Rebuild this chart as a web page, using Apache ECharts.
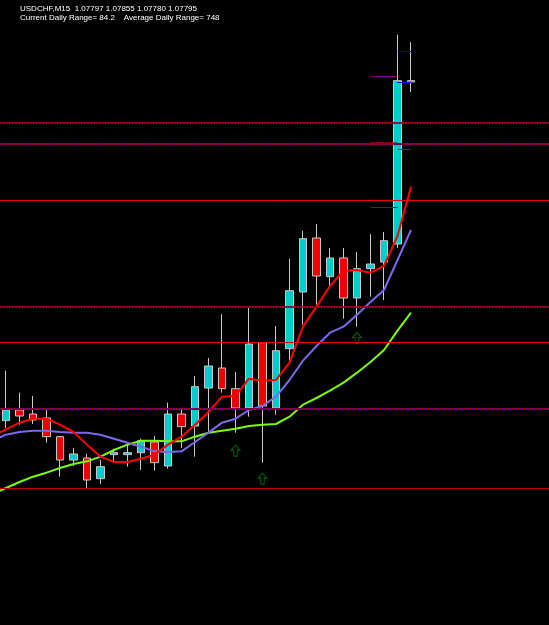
<!DOCTYPE html>
<html><head><meta charset="utf-8">
<script src="https://cdn.jsdelivr.net/npm/echarts@6/dist/echarts.min.js"></script>
<style>html,body{margin:0;padding:0;background:#000;}#c{width:549px;height:625px;}</style>
</head><body><div id="c"></div>
<script>
// ---- data ----
const symbolName = 'USDCHF,M15';
const currentDailyRange = '84.2';
const averageDailyRange = '748';
// bar index of each candle (index 0 is the bar just left of the chart edge)
const candleIdx = [1,2,3,4,5,6,7,8,9,10,11,12,13,14,15,16,17,18,19,20,21,22,23,24,25,26,27,28,29,30,31];
const opens  = [1.07287,1.07303,1.07297,1.07291,1.07263,1.07228,1.07231,1.07200,1.07236,1.07236,1.07239,1.07255,1.07219,1.07297,1.07279,1.07336,1.07366,1.07335,1.07306,1.07404,1.07306,1.07395,1.07480,1.07561,1.07503,1.07531,1.07471,1.07515,1.07525,1.07552,1.07797];
const closes = [1.07303,1.07294,1.07288,1.07263,1.07228,1.07237,1.07198,1.07218,1.07239,1.07239,1.07257,1.07224,1.07297,1.07278,1.07338,1.07369,1.07335,1.07306,1.07402,1.07309,1.07392,1.07482,1.07560,1.07504,1.07531,1.07471,1.07515,1.07522,1.07557,1.07797,1.07795];
const lows   = [1.07276,1.07281,1.07282,1.07254,1.07203,1.07219,1.07186,1.07192,1.07224,1.07218,1.07213,1.07212,1.07215,1.07246,1.07233,1.07269,1.07329,1.07269,1.07293,1.07224,1.07296,1.07374,1.07431,1.07461,1.07486,1.07440,1.07428,1.07473,1.07468,1.07546,1.07780];
const highs  = [1.07362,1.07329,1.07324,1.07305,1.07264,1.07246,1.07237,1.07228,1.07245,1.07254,1.07260,1.07264,1.07314,1.07305,1.07354,1.07381,1.07447,1.07360,1.07456,1.07405,1.07429,1.07530,1.07572,1.07582,1.07546,1.07546,1.07540,1.07567,1.07570,1.07866,1.07855];
// moving averages, bar index 0..31
const maIdx  = [0,1,2,3,4,5,6,7,8,9,10,11,12,13,14,15,16,17,18,19,20,21,22,23,24,25,26,27,28,29,30,31];
const maFast = [1.07264,1.07274,1.07284,1.07290,1.07290,1.07281,1.07270,1.07251,1.07233,1.07225,1.07225,1.07230,1.07236,1.07251,1.07263,1.07281,1.07300,1.07323,1.07324,1.07350,1.07347,1.07348,1.07374,1.07428,1.07458,1.07489,1.07512,1.07513,1.07509,1.07519,1.07564,1.07638];
const maMid  = [1.07257,1.07266,1.07270,1.07272,1.07272,1.07270,1.07269,1.07269,1.07266,1.07260,1.07254,1.07248,1.07241,1.07240,1.07241,1.07255,1.07269,1.07284,1.07290,1.07303,1.07309,1.07323,1.07348,1.07377,1.07399,1.07419,1.07428,1.07446,1.07465,1.07483,1.07528,1.07573];
const maSlow = [1.07177,1.07186,1.07195,1.07203,1.07209,1.07216,1.07222,1.07226,1.07233,1.07243,1.07251,1.07257,1.07257,1.07256,1.07256,1.07263,1.07269,1.07272,1.07275,1.07279,1.07281,1.07282,1.07293,1.07311,1.07321,1.07332,1.07344,1.07359,1.07375,1.07393,1.07422,1.07449];
// fractal arrows
const fractalIdx = [18, 20, 27];
const fractalPrice = [1.07242, 1.07200, 1.07411];
// horizontal levels
const dotRedLevels = [1.07734, 1.07458];
const dotPurpleLevels = [1.07702, 1.07305];
const solidRedLevels = [1.07617, 1.07405];
const darkRedLevels = [1.07185];
// short segments near last bars: [fromIdx, toIdx, price]
const purpleSegs = [[28, 30, 1.07804], [28, 30, 1.07607]];
const redDashSegs = [[28, 30, 1.07705]];
const navySegs = [[30, 31, 1.07841]];
const blueSegs = [[30, 31, 1.07795]];
const greenSegs = [[30, 31, 1.07694]];
const yMin = 1.069805, yMax = 1.07918;
const xMin = 0.5556, xMax = 41.2222;

// ---- chart ----
const chart = echarts.init(document.getElementById('c'));
const kData = candleIdx.map((x, i) => [x, opens[i], closes[i], lows[i], highs[i]]);
const last = opens.length - 1;
const header = symbolName + '  ' + [opens[last], highs[last], lows[last], closes[last]].map(v => v.toFixed(5)).join(' ');
const header2 = 'Current Daily Range= ' + currentDailyRange + '    Average Daily Range= ' + averageDailyRange;
const pairs = arr => maIdx.map((x, i) => [x, arr[i]]);

const ml = [];
function full(v, style) { ml.push([{ coord: [xMin, v], lineStyle: style }, { coord: [xMax, v] }]); }
dotRedLevels.forEach(v => { full(v, { color: '#5a0050', width: 1.5, type: 'solid' }); full(v, { color: '#c80000', width: 1.5, type: [2, 1] }); });
dotPurpleLevels.forEach(v => { full(v, { color: '#b00000', width: 2, type: 'solid' }); full(v, { color: '#680070', width: 2, type: [2, 1] }); });
solidRedLevels.forEach(v => full(v, { color: '#f00000', width: 1, type: 'solid' }));
darkRedLevels.forEach(v => full(v, { color: '#c00000', width: 1, type: 'solid' }));
function seg(list, style) { list.forEach(s => ml.push([{ coord: [s[0], s[2]], lineStyle: style }, { coord: [s[1], s[2]] }])); }
seg(purpleSegs, { color: '#800080', width: 1, type: 'solid' });
seg(redDashSegs, { color: '#c00000', width: 1, type: [2, 1] });
seg(navySegs, { color: '#0000a0', width: 1, type: 'solid' });
seg(blueSegs, { color: '#0000ff', width: 1, type: 'solid' });
seg(greenSegs, { color: '#006000', width: 1, type: 'solid' });

chart.setOption({
  backgroundColor: '#000',
  animation: false,
  grid: { left: 0, top: 0, right: 0, bottom: 0, containLabel: false },
  xAxis: { type: 'value', min: xMin, max: xMax, show: false, splitLine: { show: false } },
  yAxis: { type: 'value', min: yMin, max: yMax, show: false, splitLine: { show: false } },
  graphic: [
    { type: 'text', left: 20, top: 5, style: { text: header, fill: '#ffffff', font: '8px "Liberation Sans"' } },
    { type: 'text', left: 20, top: 14, style: { text: header2, fill: '#ffffff', font: '8px "Liberation Sans"' } }
  ],
  series: [
    {
      type: 'candlestick', data: kData, barWidth: 8, z: 2,
      encode: { x: 0, y: [1, 2, 3, 4] },
      itemStyle: { color: '#00cccc', color0: '#ee0000', borderColor: '#c8c8c8', borderColor0: '#c8c8c8', borderWidth: 1 }
    },
    { type: 'line', data: pairs(maSlow), symbol: 'none', z: 3, clip: true, lineStyle: { color: '#7cfc00', width: 2 } },
    { type: 'line', data: pairs(maMid), symbol: 'none', z: 3, clip: true, lineStyle: { color: '#7b68ee', width: 2 } },
    {
      type: 'line', data: pairs(maFast), symbol: 'none', z: 3, clip: true, lineStyle: { color: '#ff0000', width: 2 },
      markLine: { silent: true, symbol: 'none', label: { show: false }, animation: false, data: ml }
    },
    {
      type: 'scatter', z: 4, data: fractalIdx.map((x, i) => [x, fractalPrice[i]]),
      symbol: 'path://M5 0 L10 5 L7 5 L7 11 L3 11 L3 5 L0 5 Z', symbolSize: [9, 11],
      itemStyle: { color: '#000', borderColor: '#008000', borderWidth: 1 }
    }
  ]
});
</script></body></html>
